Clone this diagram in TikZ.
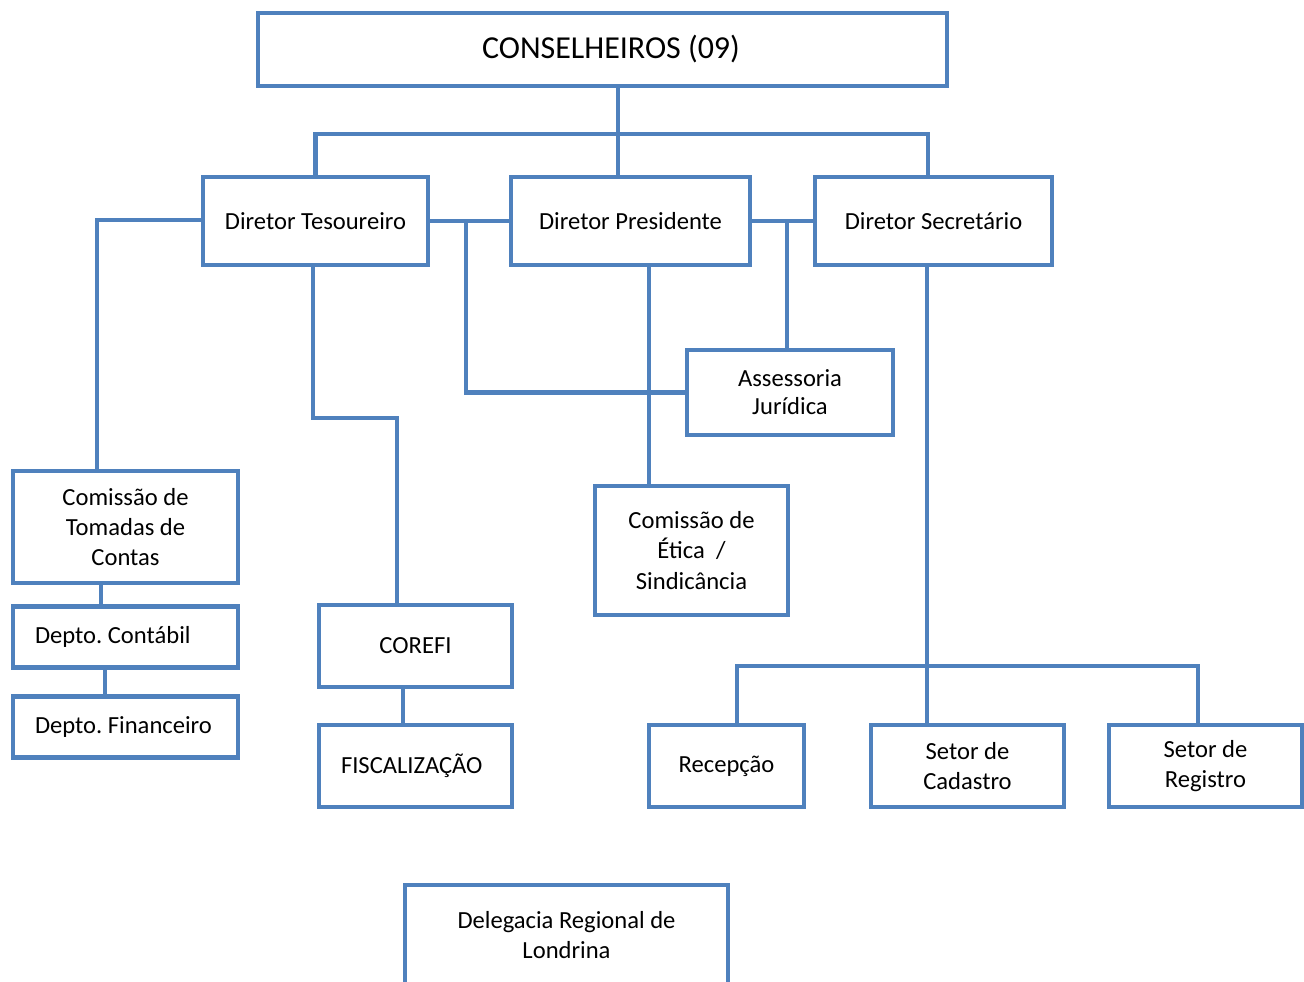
\documentclass[tikz,border=0pt]{standalone}
\usepackage{fontspec}
\setmainfont{Carlito}
\usepackage{tikz}
\definecolor{orgblue}{RGB}{79,129,189}
\newcommand{\orgwidth}{2.6pt}
\frenchspacing

\begin{document}
\begin{tikzpicture}[x=0.02cm, y=-0.02cm,
    font=\fontsize{14}{17.3}\selectfont,
    orgbox/.style={draw=orgblue, line width=\orgwidth, inner sep=0pt, align=center},
    orgline/.style={draw=orgblue, line width=\orgwidth, line join=miter},
    boxsize/.style 2 args={minimum width=#1*0.02cm, minimum height=#2*0.02cm}]
    \useasboundingbox (0,0) rectangle (1304,981);
    % conselho e diretoria
        \node (cons) at (602.5,49.5) [orgbox, boxsize={689}{73}, font=\fontsize{18.2}{21}\selectfont] {\hspace*{0.34cm}CONSELHEIROS (09)};
        \node (tes) at (315.5,221) [orgbox, boxsize={225}{88}] {Diretor Tesoureiro};
        \node (pres) at (630.5,221) [orgbox, boxsize={239}{88}] {Diretor Presidente};
        \node (sec) at (933.5,221) [orgbox, boxsize={237}{88}] {Diretor Secret\'ario};
        \node (assess) at (790,392.5) [orgbox, boxsize={206}{85}, font=\fontsize{14}{16}\selectfont] {Assessoria\\Jur\'idica};
    % tesouraria
        \node (ctc) at (125.5,527) [orgbox, boxsize={225}{112}] {Comiss\~ao de\\Tomadas de\\Contas};
        \node (contabil) at (125.5,637) [orgbox, boxsize={225}{61}, text width=181*0.02cm, align=flush left] {Depto. Cont\'abil};
        \node (financ) at (125.5,727) [orgbox, boxsize={225}{61}, text width=181*0.02cm, align=flush left] {Depto. Financeiro};
        \node (corefi) at (415.5,646) [orgbox, boxsize={193}{82}] {COREFI};
        \node (fisc) at (415.5,766) [orgbox, boxsize={193}{82}, text width=149*0.02cm, align=flush left] {FISCALIZA\c{C}\~AO};
    % presidencia e secretaria
        \node (etica) at (691.5,550.5) [orgbox, boxsize={193}{129}] {Comiss\~ao de\\\'Etica~ /\\Sindic\^ancia};
        \node (recep) at (726.5,766) [orgbox, boxsize={155}{82}] {Recep\c{c}\~ao};
        \node (cadastro) at (967.5,766) [orgbox, boxsize={193}{82}] {Setor de\\Cadastro};
        \node (registro) at (1205.5,766) [orgbox, boxsize={193}{82}] {Setor de\\Registro};
        \node (deleg) at (566.5,935) [orgbox, boxsize={323}{100}] {Delegacia Regional de\\Londrina};

    % pontos de passagem das linhas
        \coordinate (bus) at (618,134);
        \coordinate (busR) at (928,134);
        \coordinate (leftrun) at (97,220);
        \coordinate (tp) at (466,220);
        \coordinate (ps) at (787,220);
        \coordinate (pe) at (649,265);
        \coordinate (tc) at (313,418);
        \coordinate (tc2) at (397,418);
        \coordinate (cc) at (101,583);
        \coordinate (cf) at (105,667);
        \coordinate (cfisc) at (403,687);
        \coordinate (sc) at (927,666);
        \coordinate (scL) at (737,666);
        \coordinate (scR) at (1198,666);

        \draw[orgline] (bus |- cons.south) -- (bus |- pres.north);
        \draw[orgline] (tes.north) -- (tes.north |- bus) -- (busR) -- (busR |- sec.north);
        \draw[orgline] (tes.west |- leftrun) -- (leftrun) -- (leftrun |- ctc.north);
        \draw[orgline] (tes.east) -- (pres.west);
        \draw[orgline] (tp) -- (tp |- assess.west) -- (assess.west);
        \draw[orgline] (pres.east) -- (sec.west);
        \draw[orgline] (ps) -- (ps |- assess.north);
        \draw[orgline] (pe) -- (pe |- etica.north);
        \draw[orgline] (tc |- tes.south) -- (tc) -- (tc2) -- (tc2 |- corefi.north);
        \draw[orgline] (cc) -- (cc |- contabil.north);
        \draw[orgline] (cf) -- (cf |- financ.north);
        \draw[orgline] (cfisc) -- (cfisc |- fisc.north);
        \draw[orgline] (sc |- sec.south) -- (sc |- cadastro.north);
        \draw[orgline] (scL |- recep.north) -- (scL) -- (scR) -- (scR |- registro.north);
\end{tikzpicture}
\end{document}
